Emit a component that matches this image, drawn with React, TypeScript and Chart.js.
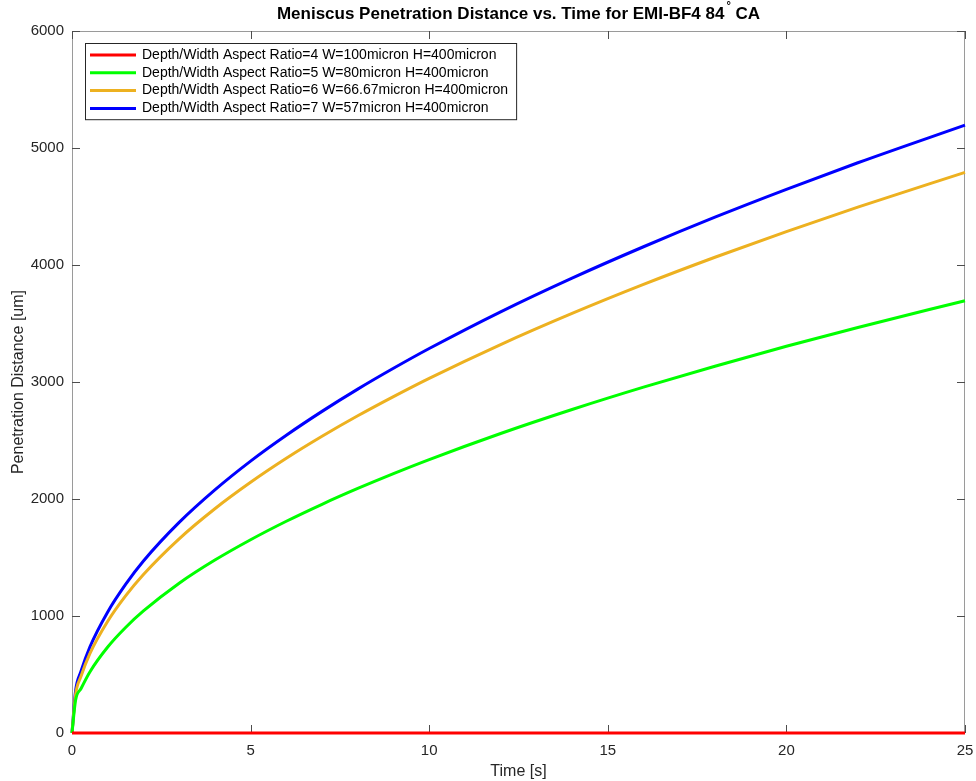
import React, { useEffect, useRef } from "react";
import { Chart, registerables } from "chart.js";

Chart.register(...registerables);

const chartTitle = "Meniscus Penetration Distance vs. Time for EMI-BF4 84";
const chartTitleSup = "°";
const chartTitleEnd = " CA";
const xTitle = "Time [s]";
const yTitle = "Penetration Distance [um]";

const times = [0, 0.1, 0.25, 0.5, 1, 1.5, 2, 3, 4, 5, 6, 7, 8, 9, 10, 12, 14, 16, 18, 20, 22, 25];

const ratio4 = [0, 0, 0, 0, 0, 0, 0, 0, 0, 0, 0, 0, 0, 0, 0, 0, 0, 0, 0, 0, 0, 0];
const ratio5 = [0, 280, 378, 522, 735, 902, 1043, 1280, 1478, 1652, 1810, 1955, 2090, 2217, 2337, 2560, 2765, 2956, 3135, 3305, 3466, 3695];
const ratio6 = [0, 330, 482, 678, 955, 1172, 1355, 1660, 1917, 2143, 2348, 2536, 2711, 2875, 3031, 3320, 3586, 3834, 4066, 4286, 4495, 4792];
const ratio7 = [0, 360, 525, 735, 1035, 1270, 1470, 1800, 2078, 2324, 2545, 2749, 2939, 3117, 3286, 3600, 3888, 4156, 4409, 4647, 4874, 5196];

const seriesNames = [
  "Depth/Width Aspect Ratio=4 W=100micron H=400micron",
  "Depth/Width Aspect Ratio=5 W=80micron H=400micron",
  "Depth/Width Aspect Ratio=6 W=66.67micron H=400micron",
  "Depth/Width Aspect Ratio=7 W=57micron H=400micron",
];
const seriesColors = ["#ff0000", "#00ff00", "#edb120", "#0000ff"];
const seriesValues = [ratio4, ratio5, ratio6, ratio7];

const xTicks = [0, 5, 10, 15, 20, 25];
const yTicks = [0, 1000, 2000, 3000, 4000, 5000, 6000];

const FONT = "'Liberation Sans', Arial, Helvetica, sans-serif";

const framePlugin = {
  id: "frame",
  beforeDatasetsDraw(chart: any) {
    const { ctx, chartArea: a, scales } = chart;
    ctx.save();
    ctx.strokeStyle = "#9a9a9a";
    ctx.lineWidth = 1;
    ctx.strokeRect(a.left + 0.5, a.top + 0.5, a.right - a.left - 1, a.bottom - a.top);
    ctx.strokeStyle = "#4d4d4d";
    const tl = 8;
    ctx.beginPath();
    xTicks.forEach((v) => {
      const px = Math.round(scales.x.getPixelForValue(v)) + 0.5;
      ctx.moveTo(px, a.bottom);
      ctx.lineTo(px, a.bottom - tl);
      ctx.moveTo(px, a.top);
      ctx.lineTo(px, a.top + tl);
    });
    yTicks.forEach((v) => {
      const py = Math.round(scales.y.getPixelForValue(v)) + 0.5;
      ctx.moveTo(a.left, py);
      ctx.lineTo(a.left + tl, py);
      ctx.moveTo(a.right, py);
      ctx.lineTo(a.right - tl, py);
    });
    ctx.stroke();
    ctx.restore();
  },
};

const overlayPlugin = {
  id: "overlay",
  afterDraw(chart: any) {
    const { ctx, chartArea: a } = chart;
    ctx.save();
    // title
    ctx.fillStyle = "#000";
    ctx.textBaseline = "middle";
    ctx.font = `bold 17px ${FONT}`;
    const w1 = ctx.measureText(chartTitle).width;
    const w3 = ctx.measureText(chartTitleEnd).width;
    ctx.font = `bold 11px ${FONT}`;
    const w2 = ctx.measureText(chartTitleSup).width + 2;
    const total = w1 + w2 + w3;
    const cx = (a.left + a.right) / 2;
    let x = cx - total / 2;
    const ty = 14;
    ctx.textAlign = "left";
    ctx.font = `bold 17px ${FONT}`;
    ctx.fillText(chartTitle, x, ty);
    x += w1 + 2;
    ctx.font = `bold 11px ${FONT}`;
    ctx.fillText(chartTitleSup, x, ty - 8);
    x += w2 - 2;
    ctx.font = `bold 17px ${FONT}`;
    ctx.fillText(chartTitleEnd, x, ty);

    // legend
    ctx.font = `14px ${FONT}`;
    const ds = chart.data.datasets;
    let maxW = 0;
    ds.forEach((d: any) => {
      maxW = Math.max(maxW, ctx.measureText(d.label).width);
    });
    const lx = a.left + 13;
    const ly = a.top + 12;
    const rowH = 17.8;
    const lw = 57 + maxW + 8;
    const lh = rowH * ds.length + 5;
    ctx.fillStyle = "#fff";
    ctx.fillRect(lx, ly, lw, lh);
    ctx.strokeStyle = "#262626";
    ctx.lineWidth = 1;
    ctx.strokeRect(lx + 0.5, ly + 0.5, lw, lh);
    ds.forEach((d: any, i: number) => {
      const ry = ly + 12 + i * rowH;
      ctx.strokeStyle = d.borderColor;
      ctx.lineWidth = 3;
      ctx.beginPath();
      ctx.moveTo(lx + 5, ry);
      ctx.lineTo(lx + 51, ry);
      ctx.stroke();
      ctx.fillStyle = "#000";
      ctx.textAlign = "left";
      ctx.textBaseline = "middle";
      ctx.fillText(d.label, lx + 57, ry);
    });
    ctx.restore();
  },
};

export default function App() {
  const ref = useRef<HTMLCanvasElement | null>(null);
  useEffect(() => {
    if (!ref.current) return;
    const datasets = seriesValues.map((vals, i) => ({
      label: seriesNames[i],
      data: times.map((t, j) => ({ x: t, y: vals[j] })),
      borderColor: seriesColors[i],
      backgroundColor: seriesColors[i],
      borderWidth: 3,
      pointRadius: 0,
      fill: false,
      cubicInterpolationMode: "monotone" as const,
      clip: 4,
    }));
    const chart = new Chart(ref.current, {
      type: "line",
      data: { datasets },
      options: {
        animation: false,
        responsive: false,
        devicePixelRatio: 1,
        layout: { padding: { top: 31, right: 11, left: 0, bottom: 0 } },
        plugins: { legend: { display: false }, tooltip: { enabled: false }, title: { display: false } },
        scales: {
          x: {
            type: "linear",
            min: 0,
            max: 25,
            afterBuildTicks: (s: any) => {
              s.ticks = xTicks.map((v) => ({ value: v }));
            },
            afterFit: (s: any) => {
              s.height = 48;
              s.paddingLeft = 0;
              s.paddingRight = 0;
            },
            ticks: { font: { size: 15, family: FONT }, color: "#262626", padding: 9, callback: (v: any) => String(v) },
            grid: { display: false, drawTicks: false },
            border: { display: false },
            title: {
              display: true,
              text: xTitle,
              font: { size: 16, family: FONT },
              color: "#262626",
              padding: { top: 0, bottom: 0 },
            },
          },
          y: {
            type: "linear",
            min: 0,
            max: 6000,
            afterBuildTicks: (s: any) => {
              s.ticks = yTicks.map((v) => ({ value: v }));
            },
            afterFit: (s: any) => {
              s.width = 72;
              s.paddingTop = 0;
              s.paddingBottom = 0;
            },
            ticks: { font: { size: 15, family: FONT }, color: "#262626", padding: 8, callback: (v: any) => String(v) },
            grid: { display: false, drawTicks: false },
            border: { display: false },
            title: {
              display: true,
              text: yTitle,
              font: { size: 16, family: FONT },
              color: "#262626",
              padding: { top: 9, bottom: 0 },
            },
          },
        },
      },
      plugins: [framePlugin, overlayPlugin],
    });
    return () => chart.destroy();
  }, []);
  return (
    <div style={{ position: "absolute", left: 0, top: 0, width: 976, height: 781, background: "#fff" }}>
      <canvas ref={ref} width={976} height={781} style={{ display: "block" }} />
    </div>
  );
}
